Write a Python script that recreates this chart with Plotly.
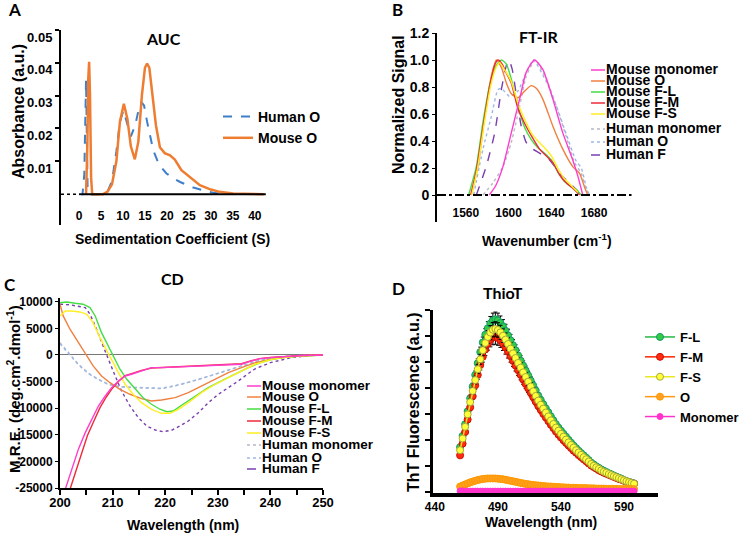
import plotly.graph_objects as go

W, H = 745, 538
def px(x): return x / W
def py(y): return 1 - y / H

FONT = "Liberation Sans, Arial, sans-serif"
TFONT = "Lato, Open Sans, sans-serif"

# ---------------- Panel A: AUC ----------------
auc_human_x = [0, 0.8, 1.2, 1.45, 1.6, 1.75, 1.95, 2.2, 5, 6.5, 7.5, 8.5, 9.3, 10.1, 10.9, 11.8,
               12.8, 13.6, 14.2, 14.8, 15.5, 16.9, 18.2, 19.9, 21.5, 23, 26, 28, 30.5, 32, 34, 36]
auc_human_y = [0, 0, 0.006, 0.028, 0.0348, 0.02, 0.002, 0, 0, 0.0008, 0.004, 0.013, 0.022, 0.0255,
               0.022, 0.0176, 0.021, 0.026, 0.028, 0.027, 0.022, 0.0133, 0.009, 0.0063, 0.0048,
               0.0037, 0.002, 0.0012, 0.0004, 0.0002, 0, 0]
auc_mouse_x = [1.6, 1.9, 2.1, 2.3, 2.5, 2.75, 3.0, 5.5, 6.5, 7.5, 8.5, 9.3, 10.2, 11.0, 11.8, 12.7,
               13.5, 14.3, 15.0, 15.5, 16.0, 16.8, 17.5, 18.4, 19.5, 20.7, 21.8, 23.3, 25, 27.5,
               30, 32, 35, 38, 42]
auc_mouse_y = [0, 0.015, 0.035, 0.0403, 0.03, 0.005, 0, 0, 0.0008, 0.003, 0.01, 0.022, 0.0275,
               0.023, 0.0145, 0.0106, 0.016, 0.03, 0.0385, 0.0398, 0.0385, 0.03, 0.021, 0.0143,
               0.0125, 0.0118, 0.0105, 0.0073, 0.0055, 0.0027, 0.0014, 0.0007, 0.0002, 0.0001, 0]
auc_xticks = [0, 5, 10, 15, 20, 25, 30, 35, 40]
auc_yticks = [0.01, 0.02, 0.03, 0.04, 0.05]
auc_yticktext = ["0.01", "0.02", "0.03", "0.04", "0.05"]

# ---------------- Panel B: FT-IR ----------------
ir_mmon_x = [1582, 1588, 1594.7, 1602.5, 1610.3, 1616.5, 1624.3, 1632, 1641.4, 1650.7, 1660, 1664.8, 1669.4]
ir_mmon_y = [0, 0.07, 0.21, 0.46, 0.71, 0.91, 1.0, 0.93, 0.71, 0.46, 0.26, 0.14, 0.0]
ir_mO_x = [1565, 1571.3, 1577.6, 1583.8, 1588.5, 1593.2, 1597.9, 1602.5, 1608.7, 1615, 1621.2,
           1625.9, 1632, 1641.4, 1650.7, 1660, 1666.4, 1671, 1674]
ir_mO_y = [0, 0.21, 0.58, 0.88, 1.0, 0.945, 0.83, 0.75, 0.72, 0.77, 0.81, 0.79, 0.71, 0.51, 0.34,
           0.21, 0.16, 0.06, 0]
ir_FL_x = [1562.6, 1569.8, 1576, 1582.2, 1588.5, 1593.2, 1597.9, 1602.5, 1608.7, 1615, 1621.2,
           1627.4, 1633.6, 1640, 1646, 1652.3, 1658.6, 1663.3, 1668]
ir_FL_y = [0, 0.21, 0.54, 0.81, 0.96, 1.0, 0.97, 0.86, 0.66, 0.5, 0.41, 0.35, 0.31, 0.26, 0.17,
           0.1, 0.06, 0.04, 0]
ir_FM_x = [1564.5, 1569.8, 1576, 1582.2, 1586.9, 1590, 1594, 1598, 1602.5, 1608.7, 1615, 1621.2,
           1629, 1635.2, 1641.4, 1647.7, 1653.9, 1660.1, 1666.4]
ir_FM_y = [0, 0.18, 0.5, 0.8, 0.96, 1.0, 0.97, 0.9, 0.83, 0.64, 0.53, 0.44, 0.34, 0.29, 0.24,
           0.15, 0.09, 0.05, 0.0]
ir_FS_x = [1565.5, 1571, 1577, 1583, 1588, 1591.6, 1596, 1602.5, 1608.7, 1615, 1621.2, 1627.4,
           1633.6, 1640, 1646, 1652.3, 1658.6, 1664.8]
ir_FS_y = [0, 0.2, 0.52, 0.8, 0.94, 0.98, 0.93, 0.84, 0.68, 0.56, 0.46, 0.4, 0.35, 0.29, 0.2,
           0.12, 0.07, 0.02]
ir_hmon_x = [1576, 1585.3, 1594.7, 1602.5, 1610.3, 1616.5, 1622.7, 1625, 1635.2, 1644.6, 1654,
             1661.7, 1668, 1672.6, 1675.7]
ir_hmon_y = [0, 0.09, 0.21, 0.39, 0.66, 0.88, 0.98, 1.0, 0.86, 0.66, 0.43, 0.24, 0.16, 0.04, 0]
ir_hO_x = [1567.3, 1576, 1583.8, 1590, 1593.2, 1601, 1608.7, 1615, 1621.2, 1623.5, 1635.2,
           1644.6, 1654, 1663.3, 1668, 1672.6, 1675.7]
ir_hO_y = [0, 0.34, 0.58, 0.78, 0.79, 0.73, 0.77, 0.88, 0.98, 1.0, 0.84, 0.66, 0.45, 0.25, 0.2,
           0.06, 0]
ir_hF_x = [1569.8, 1579, 1587, 1593.2, 1597.9, 1600.3, 1603.4, 1607.8, 1611.8, 1616.5, 1622.7,
           1629, 1638.3, 1647.7, 1657, 1663.3, 1668]
ir_hF_y = [0, 0.21, 0.46, 0.78, 0.96, 1.0, 0.93, 0.71, 0.51, 0.39, 0.34, 0.31, 0.26, 0.16, 0.09,
           0.04, 0]
ir_xticks = [1560, 1600, 1640, 1680, 1720]
ir_yticks = [0, 0.2, 0.4, 0.6, 0.8, 1.0, 1.2]
ir_yticktext = ["0", "0.2", "0.4", "0.6", "0.8", "1.0", "1.2"]

# ---------------- Panel C: CD ----------------
cd_FL_x = [200, 201.3, 202.9, 204.4, 205.7, 206.7, 207.9, 209.2, 210.1, 211.4, 212.7, 214.3, 215.8,
           217.4, 219, 220.3, 221.5, 223.4, 225.7, 228.2, 230.7, 233.3, 235.8, 238, 240, 242, 245, 250]
cd_FL_y = [9800, 9960, 9720, 9530, 8890, 7330, 4190, 1690, 0, -2690, -4570, -6450, -8030, -9270,
           -10200, -10660, -10530, -9270, -7710, -6150, -4890, -3630, -2390, -1500, -900, -550, -250, 0]
cd_FS_x = [200, 201, 202.2, 203.8, 205.1, 206.3, 207.6, 208.9, 209.8, 211.1, 212.4, 213.9, 215.5,
           217.4, 219.3, 220.9, 222.5, 224.4, 226.9, 229.5, 232, 234.5, 237.1, 240, 242, 245, 250]
cd_FS_y = [7330, 8270, 8270, 8080, 7650, 6070, 3250, 750, -810, -3330, -5510, -7390, -8970, -10210,
           -10960, -10960, -10210, -8970, -7090, -5510, -4270, -3010, -1750, -900, -550, -250, 0]
cd_mO_x = [200, 200.6, 201.9, 203.5, 204.8, 206.3, 207.9, 209.5, 211.4, 213.3, 215.5, 217.4, 219.3,
           221.9, 224.4, 226.9, 229.5, 232, 234.5, 237, 240, 243, 246, 250]
cd_mO_y = [9530, 7330, 4830, 2310, 130, -2070, -3950, -5210, -6450, -7390, -8210, -8650, -8460,
           -8030, -7090, -5830, -4570, -3330, -2390, -1500, -800, -400, -150, 0]
cd_mmon_x = [201, 202.2, 203.5, 204.8, 206, 207.3, 208.6, 209.8, 211.1, 212.4, 213.6, 215.5, 217.4,
             219.3, 221.9, 224.4, 226.9, 229.5, 232, 234.5, 236.4, 238, 240, 243, 246, 250]
cd_mmon_y = [-25250, -21500, -17700, -14600, -12100, -9590, -7710, -6150, -4890, -3950, -3630,
             -3010, -2390, -2390, -2260, -2200, -2070, -1940, -1750, -1750, -1130, -700, -500, -250, -100, 0]
cd_FM_x = [201.9, 203, 204, 205.2, 206.4, 207.6, 208.8, 210, 211.2, 212.4, 213.6, 215.5, 217.4,
           219.3, 221.9, 224.4, 226.9, 229.5, 232, 234.5, 236.4, 238, 240, 243, 246, 250]
cd_FM_y = [-25250, -21800, -18500, -15200, -12500, -9900, -7900, -6200, -4900, -3900, -3500, -2900,
           -2450, -2350, -2250, -2150, -2050, -1900, -1700, -1650, -1100, -700, -450, -250, -100, 0]
cd_hmon_x = [200, 201.6, 203.5, 205.4, 207.3, 209.2, 211.4, 214.3, 216.8, 219.3, 221.9, 224.4,
             226.9, 229.5, 232, 234.5, 236.4, 238, 240, 243, 246, 250]
cd_hmon_y = [2310, 430, -1750, -3440, -4570, -5510, -5960, -6150, -6200, -6340, -5830, -5210,
             -4450, -3630, -2820, -2070, -1450, -1000, -650, -300, -100, 0]
cd_hO_x = [200, 201.6, 203.5, 205.4, 207.3, 209.2, 211.4, 214.3, 216.8, 219.3, 221.9, 224.4,
           226.9, 229.5, 232, 234.5, 236.4, 238, 240, 243, 246, 250]
cd_hO_y = [2100, 300, -1850, -3500, -4650, -5550, -6000, -6100, -6150, -6250, -5750, -5150,
           -4400, -3600, -2800, -2050, -1450, -1000, -650, -300, -100, 0]
cd_hF_x = [200, 202, 204.8, 205.7, 206.7, 207.9, 209.2, 210.5, 211.7, 213.3, 214.9, 216.5, 218.1,
           219.6, 221.2, 222.8, 224.4, 226.3, 228.2, 230.1, 232, 233.9, 235.8, 237.1, 240, 244, 247, 250]
cd_hF_y = [9530, 9400, 8890, 7650, 5450, 2310, -810, -3950, -6770, -9590, -11790, -13350, -14100,
           -14420, -14160, -13350, -12410, -10850, -8970, -7390, -6150, -4890, -3500, -2600, -1450,
           -500, -150, 0]
cd_xticks = [200, 210, 220, 230, 240, 250]
cd_yticks = [-25000, -20000, -15000, -10000, -5000, 0, 5000, 10000]
cd_yticktext = ["-25000", "-20000", "-15000", "-10000", "-5000", "0", "5000", "10000"]

# ---------------- Panel D: ThioT ----------------
tht_x = list(range(460, 600, 2))
tht_FL = [1.72, 2.15, 2.6, 3.1, 3.6, 4.05, 4.5, 4.95, 5.38, 5.75,
          6.05, 6.3, 6.48, 6.6, 6.64, 6.6, 6.5, 6.37, 6.2, 6.02,
          5.83, 5.64, 5.45, 5.25, 5.05, 4.86, 4.67, 4.48, 4.28, 4.09,
          3.9, 3.7, 3.53, 3.37, 3.21, 3.06, 2.9, 2.75, 2.6, 2.47,
          2.35, 2.23, 2.12, 2.0, 1.89, 1.78, 1.68, 1.58, 1.49, 1.4,
          1.31, 1.22, 1.12, 1.05, 0.98, 0.92, 0.86, 0.81, 0.76, 0.71,
          0.67, 0.62, 0.58, 0.54, 0.5, 0.45, 0.41, 0.38, 0.35, 0.32]
tht_FM = [1.4, 1.85, 2.3, 2.78, 3.25, 3.68, 4.1, 4.5, 4.88, 5.2,
          5.48, 5.7, 5.85, 5.94, 5.96, 5.92, 5.83, 5.7, 5.55, 5.39,
          5.22, 5.04, 4.86, 4.68, 4.5, 4.32, 4.15, 3.98, 3.81, 3.64,
          3.47, 3.3, 3.15, 3.0, 2.86, 2.72, 2.58, 2.45, 2.32, 2.2,
          2.09, 1.98, 1.88, 1.78, 1.68, 1.58, 1.5, 1.41, 1.33, 1.25,
          1.17, 1.09, 1.01, 0.95, 0.89, 0.83, 0.78, 0.73, 0.69, 0.65,
          0.61, 0.57, 0.53, 0.49, 0.46, 0.42, 0.39, 0.36, 0.33, 0.31]
tht_FS = [1.6, 2.05, 2.5, 2.98, 3.45, 3.88, 4.3, 4.72, 5.1, 5.45,
          5.73, 5.96, 6.13, 6.24, 6.27, 6.23, 6.14, 6.01, 5.86, 5.69,
          5.51, 5.33, 5.15, 4.96, 4.78, 4.6, 4.42, 4.24, 4.05, 3.87,
          3.69, 3.51, 3.35, 3.2, 3.05, 2.9, 2.75, 2.61, 2.47, 2.35,
          2.23, 2.12, 2.01, 1.9, 1.8, 1.7, 1.6, 1.51, 1.42, 1.33,
          1.25, 1.16, 1.07, 1.0, 0.94, 0.88, 0.82, 0.77, 0.73, 0.68,
          0.64, 0.6, 0.56, 0.52, 0.48, 0.44, 0.4, 0.37, 0.34, 0.31]
tht_err = [0.06, 0.08, 0.09, 0.1, 0.12, 0.13, 0.15, 0.17, 0.19, 0.21,
           0.23, 0.25, 0.27, 0.28, 0.28, 0.28, 0.27, 0.26, 0.25, 0.24,
           0.23, 0.22, 0.21, 0.2, 0.19, 0.18, 0.17, 0.16, 0.15, 0.14,
           0.13, 0.12, 0.12, 0.11, 0.1, 0.1, 0.09, 0.09, 0.08, 0.08,
           0.07, 0.07, 0.07, 0.06, 0.06, 0.06, 0.05, 0.05, 0.05, 0.05,
           0.04, 0.04, 0.04, 0.04, 0.04, 0.04, 0.04, 0.04, 0.04, 0.04,
           0.03, 0.03, 0.03, 0.03, 0.03, 0.03, 0.03, 0.03, 0.03, 0.03]
tht_O = [0.2, 0.24, 0.28, 0.32, 0.36, 0.39, 0.42, 0.45, 0.47, 0.49,
         0.5, 0.51, 0.51, 0.51, 0.51, 0.5, 0.49, 0.48, 0.46, 0.44,
         0.42, 0.4, 0.38, 0.36, 0.34, 0.32, 0.3, 0.29, 0.27, 0.26,
         0.25, 0.24, 0.23, 0.22, 0.21, 0.2, 0.2, 0.19, 0.18, 0.18,
         0.17, 0.17, 0.16, 0.16, 0.15, 0.15, 0.15, 0.14, 0.14, 0.14,
         0.14, 0.13, 0.13, 0.13, 0.12, 0.12, 0.12, 0.12, 0.11, 0.11,
         0.11, 0.11, 0.11, 0.1, 0.1, 0.1, 0.1, 0.1, 0.1, 0.1]
tht_mon = [0.03, 0.03, 0.02, 0.02, 0.02, 0.02, 0.02, 0.02, 0.02, 0.02,
           0.02, 0.02, 0.02, 0.02, 0.02, 0.02, 0.02, 0.02, 0.02, 0.02,
           0.02, 0.02, 0.02, 0.02, 0.02, 0.02, 0.02, 0.02, 0.02, 0.02,
           0.02, 0.02, 0.02, 0.02, 0.02, 0.02, 0.02, 0.02, 0.02, 0.02,
           0.02, 0.02, 0.02, 0.02, 0.02, 0.02, 0.02, 0.02, 0.02, 0.02,
           0.02, 0.02, 0.02, 0.02, 0.02, 0.02, 0.02, 0.02, 0.02, 0.02,
           0.02, 0.02, 0.02, 0.02, 0.02, 0.02, 0.02, 0.02, 0.02, 0.02]
tht_xticks = [440, 490, 540, 590]
tht_yticks = [0, 1, 2, 3, 4, 5, 6, 7]

# colours
C_MMON = "#ff3dcc"
C_MO = "#f08040"
C_FL = "#44dd44"
C_FM = "#ee2a3a"
C_FS = "#ffee22"
C_HMON = "#b8b8c8"
C_HO = "#9db8e6"
C_HF = "#7a3fb0"

fig = go.Figure()

# A traces
fig.add_trace(go.Scatter(x=auc_human_x, y=auc_human_y, mode="lines", name="Human O",
                         line=dict(color="#3f7fc9", width=2, dash="dash"), xaxis="x", yaxis="y",
                         legend="legend"))
fig.add_trace(go.Scatter(x=auc_mouse_x, y=auc_mouse_y, mode="lines", name="Mouse O",
                         line=dict(color="#ee7d31", width=2.5), xaxis="x", yaxis="y",
                         legend="legend"))

# B traces
ir_series = [
    ("Human monomer", ir_hmon_x, ir_hmon_y, C_HMON, "dot"),
    ("Human O", ir_hO_x, ir_hO_y, C_HO, "dot"),
    ("Human F", ir_hF_x, ir_hF_y, C_HF, "dash"),
    ("Mouse O", ir_mO_x, ir_mO_y, C_MO, "solid"),
    ("Mouse F-L", ir_FL_x, ir_FL_y, C_FL, "solid"),
    ("Mouse F-M", ir_FM_x, ir_FM_y, C_FM, "solid"),
    ("Mouse F-S", ir_FS_x, ir_FS_y, C_FS, "solid"),
    ("Mouse monomer", ir_mmon_x, ir_mmon_y, C_MMON, "solid"),
]
for name, xs, ys, col, dash in ir_series:
    fig.add_trace(go.Scatter(x=xs, y=ys, mode="lines", name=name, showlegend=False,
                             line=dict(color=col, width=1.4, dash=dash, shape="spline", smoothing=0.6),
                             xaxis="x2", yaxis="y2"))

# C traces
cd_series = [
    ("Human monomer", cd_hmon_x, cd_hmon_y, C_HMON, "dot"),
    ("Human O", cd_hO_x, cd_hO_y, C_HO, "dot"),
    ("Human F", cd_hF_x, cd_hF_y, C_HF, "dot"),
    ("Mouse O", cd_mO_x, cd_mO_y, C_MO, "solid"),
    ("Mouse F-L", cd_FL_x, cd_FL_y, C_FL, "solid"),
    ("Mouse F-S", cd_FS_x, cd_FS_y, C_FS, "solid"),
    ("Mouse F-M", cd_FM_x, cd_FM_y, C_FM, "solid"),
    ("Mouse monomer", cd_mmon_x, cd_mmon_y, C_MMON, "solid"),
]
for name, xs, ys, col, dash in cd_series:
    fig.add_trace(go.Scatter(x=xs, y=ys, mode="lines", name=name, showlegend=False,
                             line=dict(color=col, width=1.4, dash=dash),
                             xaxis="x3", yaxis="y3"))

# D traces
def err(arr):
    return dict(type="data", array=arr, color="black", thickness=1, width=2, visible=True)

fig.add_trace(go.Scatter(x=tht_x, y=tht_FL, mode="lines+markers", name="F-L", legend="legend2",
                         line=dict(color="#22bb44", width=1.5),
                         marker=dict(size=7, color="#33cc44", line=dict(color="#129a6a", width=1)),
                         error_y=err(tht_err), xaxis="x4", yaxis="y4"))
fig.add_trace(go.Scatter(x=tht_x, y=tht_FM, mode="lines+markers", name="F-M", legend="legend2",
                         line=dict(color="#ff2200", width=1.5),
                         marker=dict(size=7, color="#ff2a10", line=dict(color="#cc1100", width=1)),
                         error_y=err(tht_err), xaxis="x4", yaxis="y4"))
fig.add_trace(go.Scatter(x=tht_x, y=tht_FS, mode="lines+markers", name="F-S", legend="legend2",
                         line=dict(color="#e8e820", width=1.5),
                         marker=dict(size=7, color="#ffff3a", line=dict(color="#a8a83a", width=1)),
                         error_y=err(tht_err), xaxis="x4", yaxis="y4"))
fig.add_trace(go.Scatter(x=tht_x, y=tht_O, mode="lines+markers", name="O", legend="legend2",
                         line=dict(color="#ff9a10", width=1.5),
                         marker=dict(size=7, color="#ffa020", line=dict(color="#ff9900", width=1)),
                         xaxis="x4", yaxis="y4"))
fig.add_trace(go.Scatter(x=tht_x, y=tht_mon, mode="lines+markers", name="Monomer", legend="legend2",
                         line=dict(color="#ff33cc", width=1.5),
                         marker=dict(size=6, color="#ff33cc", line=dict(color="#ff33cc", width=1)),
                         xaxis="x4", yaxis="y4"))

tick_bold = dict(family=FONT, size=12, color="black", weight="bold")
tick_bold14 = dict(family=FONT, size=14, color="black", weight="bold")

shapes = []
annotations = []

# axis-level decorations
shapes.append(dict(type="line", xref="x", yref="y", x0=-4.1, x1=0.5, y0=0, y1=0,
                   line=dict(color="black", width=1.5, dash="dot")))
shapes.append(dict(type="line", xref="x", yref="y", x0=0.5, x1=42.5, y0=0, y1=0,
                   line=dict(color="black", width=2)))
shapes.append(dict(type="line", xref="x2", yref="y2", x0=1533, x1=1715, y0=0, y1=0,
                   line=dict(color="black", width=2, dash="dashdot")))

def ann(text, x, y, size=14, angle=0, xanchor="center", family=FONT, bold=True):
    annotations.append(dict(text=text, x=px(x), y=py(y), xref="paper", yref="paper",
                            showarrow=False, textangle=angle, xanchor=xanchor, yanchor="middle",
                            font=dict(family=family, size=size, color="black",
                                      weight="bold" if bold else "normal")))

# panel letters and titles
ann("A", 15, 9, size=17, family=TFONT)
ann("B", 397, 9, size=17, family=TFONT)
ann("C", 10, 284, size=17, family=TFONT)
ann("D", 398, 288, size=17, family=TFONT)
ann("AUC", 163, 38, size=16, family=TFONT)
ann("FT-IR", 538, 37, size=16, family=TFONT)
ann("CD", 172, 278, size=16, family=TFONT)
ann("ThioT", 503, 292, size=16, family=TFONT)

# axis titles
ann("Absorbance (a.u.)", 18, 112, size=16, angle=-90)
ann("Sedimentation Coefficient (S)", 172, 239, size=14)
ann("Normalized Signal", 398, 105, size=16, angle=-90)
ann("Wavenumber (cm<sup>-1</sup>)", 547, 240, size=14)
ann("M.R.E. (deg.cm<sup>2</sup>.dmol<sup>-1</sup>)", 13, 389, size=15, angle=-90)
ann("Wavelength (nm)", 183, 525, size=14)
ann("ThT Fluorescence (a.u.)", 413, 402, size=16, angle=-90)
ann("Wavelength (nm)", 541, 522, size=14)

# manual legends for B and C (tightly packed rows)
leg_names = ["Mouse monomer", "Mouse O", "Mouse F-L", "Mouse F-M", "Mouse F-S",
             "Human monomer", "Human O", "Human F"]
leg_cols = [C_MMON, C_MO, C_FL, C_FM, C_FS, C_HMON, C_HO, C_HF]
leg_dash = ["solid"] * 5 + ["dot", "dot", "dash"]
b_rows = [69, 80, 91, 102, 113, 128, 141, 154]
c_rows = [385, 396, 408, 420, 432, 444, 457, 468]
for i in range(8):
    shapes.append(dict(type="line", xref="paper", yref="paper", x0=px(591), x1=px(605),
                       y0=py(b_rows[i] + 1), y1=py(b_rows[i] + 1),
                       line=dict(color=leg_cols[i], width=1.5, dash=leg_dash[i])))
    ann(leg_names[i], 604, b_rows[i], size=14, xanchor="left")
    shapes.append(dict(type="line", xref="paper", yref="paper", x0=px(247), x1=px(261),
                       y0=py(c_rows[i] + 1), y1=py(c_rows[i] + 1),
                       line=dict(color=leg_cols[i], width=1.5, dash=leg_dash[i])))
    ann(leg_names[i], 260, c_rows[i], size=13.5, xanchor="left")

common_axis = dict(automargin=False, showgrid=False, zeroline=False)

fig.update_layout(
    template="none",
    width=W, height=H, margin=dict(l=0, r=0, t=0, b=0, autoexpand=False),
    paper_bgcolor="white", plot_bgcolor="white",
    showlegend=True,
    shapes=shapes, annotations=annotations,
    legend=dict(x=px(218), y=py(101), xanchor="left", yanchor="top", bgcolor="rgba(0,0,0,0)",
                font=dict(family=FONT, size=14, color="black", weight="bold"),
                tracegroupgap=0, itemwidth=30),
    legend2=dict(x=px(640), y=py(322), xanchor="left", yanchor="top", bgcolor="rgba(0,0,0,0)",
                 font=dict(family=FONT, size=13, color="black", weight="bold"),
                 tracegroupgap=0, itemwidth=30),
    # A
    xaxis=dict(domain=[px(61), px(268)], range=[-4.1, 43], anchor="y", showline=False,
               tickmode="array", tickvals=auc_xticks,
               ticks="", ticklabelposition="inside", tickfont=tick_bold, **common_axis),
    yaxis=dict(domain=[py(225), py(30)], range=[-0.0094, 0.05], anchor="x", showline=True,
               linecolor="black", linewidth=2,
               tickmode="array", tickvals=auc_yticks, ticktext=auc_yticktext,
               ticks="outside", ticklen=4, tickwidth=1.5, tickcolor="black",
               ticklabelshift=7, tickfont=dict(family=FONT, size=13, color="black", weight="bold"),
               **common_axis),
    # B
    xaxis2=dict(domain=[px(437), px(639)], range=[1533, 1722], anchor="y2", showline=False,
                tickmode="array", tickvals=ir_xticks,
                ticks="", ticklabelposition="inside", tickfont=tick_bold, **common_axis),
    yaxis2=dict(domain=[py(222), py(33)], range=[-0.2, 1.2], anchor="x2", showline=True,
                linecolor="black", linewidth=2,
                tickmode="array", tickvals=ir_yticks, ticktext=ir_yticktext,
                ticks="outside", ticklen=3, tickwidth=1, tickcolor="black", tickfont=tick_bold14,
                **common_axis),
    # C
    xaxis3=dict(domain=[px(60), px(323)], range=[200, 250], anchor="y3", showline=True,
                linecolor="black", linewidth=2,
                tickmode="array", tickvals=cd_xticks, ticks="outside", ticklen=5, tickwidth=1.5,
                tickcolor="black", ticklabelstandoff=-4,
                minor=dict(ticks="outside", dtick=5, tick0=200, ticklen=5, tickwidth=1.5,
                           tickcolor="black", showgrid=False),
                tickfont=dict(family=FONT, size=13, color="black", weight="bold"), **common_axis),
    yaxis3=dict(domain=[py(488), py(298)], range=[-25000, 10700], anchor="x3", showline=True,
                linecolor="black", linewidth=2, automargin=False, showgrid=False, zeroline=True,
                zerolinecolor="#777777", zerolinewidth=1.2,
                tickmode="array", tickvals=cd_yticks, ticktext=cd_yticktext,
                ticks="outside", ticklen=3, tickwidth=1, tickcolor="black", tickfont=tick_bold),
    # D
    xaxis4=dict(domain=[px(433), px(658)], range=[438.5, 617], anchor="y4", showline=True,
                linecolor="black", linewidth=4,
                tickmode="array", tickvals=tht_xticks, ticks="", tickfont=tick_bold, **common_axis),
    yaxis4=dict(domain=[py(493), py(310)], range=[-0.05, 7.0], anchor="x4", showline=True,
                linecolor="black", linewidth=3,
                tickmode="array", tickvals=tht_yticks, showticklabels=False,
                ticks="outside", ticklen=5, tickwidth=2, tickcolor="black", **common_axis),
)

fig.write_html("out.html", config={"displayModeBar": False},
               post_script="document.body.style.margin='0';document.body.style.padding='0';")
